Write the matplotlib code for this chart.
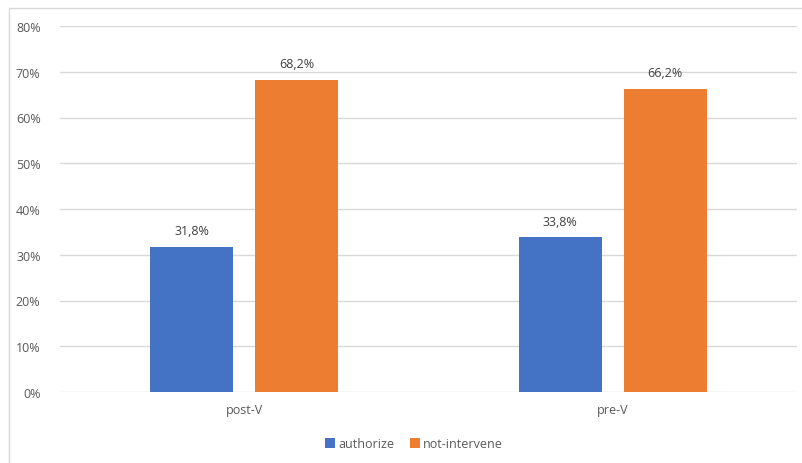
import matplotlib
matplotlib.use("Agg")
import matplotlib.pyplot as plt
from matplotlib.patches import Rectangle
import numpy as np

categories = ["post-V", "pre-V"]
series_names = ["authorize", "not-intervene"]
authorize = [31.8, 33.8]
not_intervene = [68.2, 66.2]
yticks = [0, 10, 20, 30, 40, 50, 60, 70, 80]

colors = ["#4472C4", "#ED7D31"]
txt = "#595959"
plt.rcParams['font.family'] = ['Open Sans', 'DejaVu Sans']

W, H = 803, 464
fig = plt.figure(figsize=(W/100, H/100), dpi=100)
ax = fig.add_axes([60/W, 1-393/H, (797-60)/W, (393-27)/H])

x = np.arange(len(categories))
bw = 0.225
off = bw/2 + 0.03
b1 = ax.bar(x - off, authorize, bw, color=colors[0], label=series_names[0], zorder=3)
b2 = ax.bar(x + off, not_intervene, bw, color=colors[1], label=series_names[1], zorder=3)
for bars, vals in ((b1, authorize), (b2, not_intervene)):
    for r, v in zip(bars, vals):
        ax.annotate(f"{v:.1f}%".replace(".", ","), (r.get_x()+r.get_width()/2, v),
                    xytext=(0, 7), textcoords="offset points", ha="center", va="bottom",
                    fontsize=9, color="#404040")

ax.set_xlim(-0.5, 1.5)
ax.set_ylim(0, 80)
ax.set_yticks(yticks)
ax.set_yticklabels([f"{t}%" for t in yticks])
ax.set_xticks(x)
ax.set_xticklabels(categories)
ax.tick_params(axis="both", length=0, labelsize=9, colors=txt)
ax.tick_params(axis="y", pad=14)
ax.tick_params(axis="x", pad=8)
ax.grid(axis="y", color="#D9D9D9", linewidth=1, zorder=0)
for s in ax.spines.values():
    s.set_visible(False)

fig.legend(handles=[b1, b2], labels=series_names, loc="center", bbox_to_anchor=(414/W, 1-445/H),
           ncol=2, frameon=False, fontsize=9, labelcolor=txt, handlelength=0.8, handleheight=0.8,
           handletextpad=0.3, columnspacing=1.2)

fig.patches.append(Rectangle((9/W, -0.1), 1.2, 1-9/H+0.1, transform=fig.transFigure,
                             fill=False, edgecolor="#D9D9D9", linewidth=1))
fig.savefig("out.png", dpi=100)
